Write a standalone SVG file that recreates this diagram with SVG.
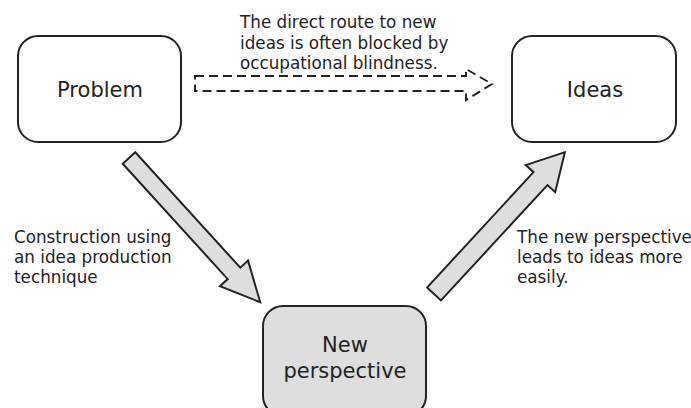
<svg xmlns="http://www.w3.org/2000/svg" width="691" height="408" viewBox="0 0 691 408">
<style>
.box{stroke:#222;stroke-width:2;fill:#fff}
.gray{fill:#dedede}
.lbl{font-family:"DejaVu Sans",Verdana,sans-serif;font-size:21px;fill:#222;text-anchor:middle}
.txt{font-family:"DejaVu Sans",Verdana,sans-serif;font-size:16.8px;fill:#222}
.big{fill:#dedede;stroke:#222;stroke-width:2;stroke-linejoin:miter}
.dash{fill:none;stroke:#222;stroke-width:2;stroke-dasharray:9,5}
</style>
<rect width="691" height="408" fill="#fff"/>
<g id="connectors">
<polygon class="dash" points="195,76 466,76 466,69 492,84 466,100 466,91 195,91 195,76"/>
<polygon class="big" transform="translate(129,158) rotate(47.7)" points="0,-8.5 156,-8.5 156,-19 195,0 156,19 156,8.5 0,8.5"/>
<polygon class="big" transform="translate(434,294) rotate(-47.3)" points="0,-9.5 157,-9.5 157,-20 193,0 157,20 157,9.5 0,9.5"/>
</g>
<g id="problem">
<rect class="box" x="18" y="36" width="163" height="106" rx="20"/>
<text class="lbl" x="100" y="97">Problem</text>
</g>
<g id="ideas">
<rect class="box" x="512" y="36" width="164" height="106" rx="20"/>
<text class="lbl" x="595" y="97">Ideas</text>
</g>
<g id="newperspective">
<rect class="box gray" x="263" y="306" width="163" height="110" rx="20"/>
<text class="lbl" x="345" y="352">New</text>
<text class="lbl" x="345" y="378">perspective</text>
</g>
<g id="labels">
<text class="txt" x="240" y="28">The direct route to new</text>
<text class="txt" x="240" y="49">ideas is often blocked by</text>
<text class="txt" x="240" y="69">occupational blindness.</text>
<text class="txt" x="14" y="243">Construction using</text>
<text class="txt" x="14" y="263">an idea production</text>
<text class="txt" x="14" y="283">technique</text>
<text class="txt" x="517" y="243">The new perspective</text>
<text class="txt" x="517" y="263">leads to ideas more</text>
<text class="txt" x="517" y="283">easily.</text>
</g>
</svg>
